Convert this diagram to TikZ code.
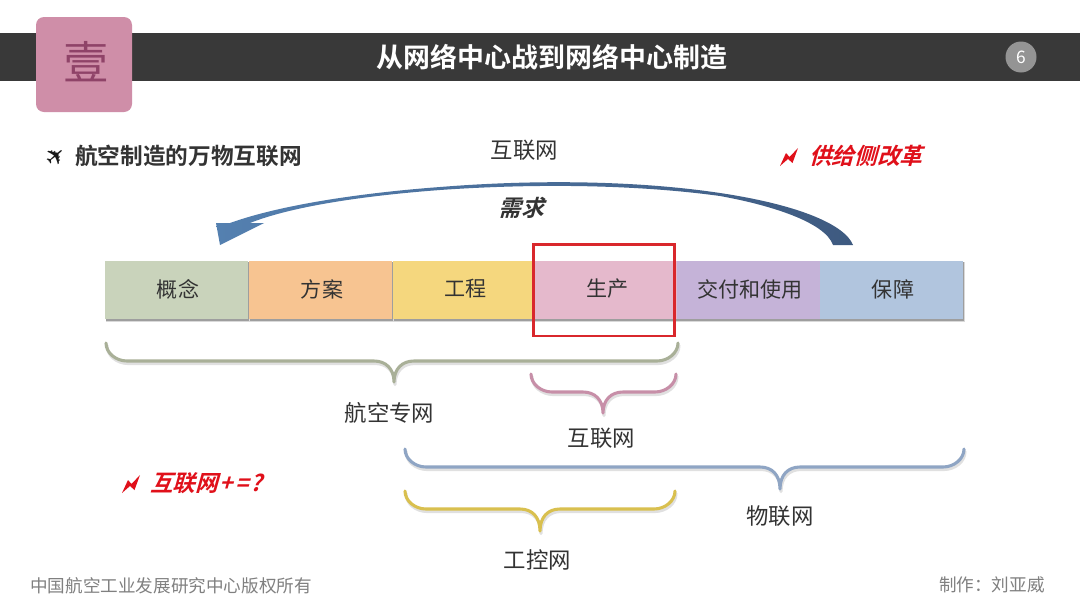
\documentclass[tikz,border=0pt]{standalone}
\usepackage{fontspec}
\setmainfont{Noto Sans CJK SC}
\newfontfamily\cjkb{Noto Sans CJK SC Bold}
\newfontfamily\cjkbi[FakeSlant=0.28]{Noto Sans CJK SC Bold}
\newfontfamily\djv{DejaVu Sans}
\definecolor{hdr}{HTML}{393939}
\definecolor{badge}{HTML}{CF8EA8}
\definecolor{badgetx}{HTML}{8F4368}
\definecolor{txt}{HTML}{333333}
\definecolor{foot}{HTML}{808080}
\definecolor{redtx}{HTML}{E0101A}
\definecolor{frame}{HTML}{D9272C}
\definecolor{stA}{HTML}{C9D3BB}
\definecolor{stB}{HTML}{F7C491}
\definecolor{stC}{HTML}{F5D77E}
\definecolor{stD}{HTML}{E5B9CC}
\definecolor{stE}{HTML}{C5B3D8}
\definecolor{stF}{HTML}{B1C5DE}
\definecolor{brA}{HTML}{A9B098}
\definecolor{brB}{HTML}{C78FA8}
\definecolor{brC}{HTML}{8FA5C4}
\definecolor{brD}{HTML}{D9C04F}
\definecolor{arL}{HTML}{5480B0}
\definecolor{arM}{HTML}{A0B4C8}
\definecolor{arR}{HTML}{3E5A80}
\tikzset{
  x=0.75pt,y=-0.75pt,
  label/.style={text=txt,font=\fontsize{16.8}{18}\selectfont,inner sep=0},
  stage/.style={font=\fontsize{15.8}{18}\selectfont,text=txt,inner sep=0},
  footer/.style={text=foot,font=\fontsize{13.2}{15}\selectfont,inner sep=0},
  hot/.style={text=redtx,font=\fontsize{17}{19}\selectfont\cjkbi,inner sep=0},
  curly/.style={line width=2.3pt,line cap=round,line join=round},
}
% left x, right x, middle x, top y, flat y, tip y, colour
\newcommand{\curlybrace}[7]{%
  \draw[curly,black!12,shift={(1,2.5)}] (#1,#4) .. controls (#1,#5-8) and (#1+10,#5) .. (#1+21,#5)
    -- (#3-20,#5) .. controls (#3-8,#5) and (#3,#5+8) .. (#3,#6)
    .. controls (#3,#5+8) and (#3+8,#5) .. (#3+20,#5)
    -- (#2-21,#5) .. controls (#2-10,#5) and (#2,#5-8) .. (#2,#4);
  \draw[curly,#7] (#1,#4) .. controls (#1,#5-8) and (#1+10,#5) .. (#1+21,#5)
    -- (#3-20,#5) .. controls (#3-8,#5) and (#3,#5+8) .. (#3,#6)
    .. controls (#3,#5+8) and (#3+8,#5) .. (#3+20,#5)
    -- (#2-21,#5) .. controls (#2-10,#5) and (#2,#5-8) .. (#2,#4);
}
\newcommand{\stagebar}[5]{%
  \fill[black!15] (#1+1,262) rectangle (#2+1.5,322);
  \fill[black!38] (#1+1,262) rectangle (#2+1,320.5);
  \fill[#3] (#1,261) rectangle (#2,319);
  \node[stage] (#4) at ({(#1+#2)/2+1.5},289) {#5};
}
\newcommand{\bolt}[2]{%
  \fill[redtx,shift={(#1,#2)}] (0,18) -- (6,5) -- (9.5,9) -- (18,0) -- (12.5,15) -- (8,11) -- cycle;
}
\begin{document}
\begin{tikzpicture}
\useasboundingbox (0,0) rectangle (1080,607);
\fill[white] (0,0) rectangle (1080,607);
% header
\fill[hdr] (0,33) rectangle (1080,81);
\fill[badge,rounded corners=6pt] (36,17) rectangle (132,112);
\node[text=badgetx,font=\fontsize{34}{36}\selectfont,inner sep=0] (badgetext) at (86,62) {壹};
\node[text=white,font=\fontsize{20.2}{22}\selectfont\cjkb,inner sep=0] (title) at (552,57) {从网络中心战到网络中心制造};
\fill[black!42] (1021,57) circle[radius=15.5];
\node[text=white,font=\fontsize{13}{15}\selectfont,inner sep=0] (pagenum) at (1021,57) {6};
% sub heading
\node[text=black!90,font=\fontsize{18}{19}\selectfont\djv,inner sep=0,rotate=40] (plane) at (56,157) {✈};
\node[anchor=west,text=txt,font=\fontsize{17}{19}\selectfont\cjkb,inner sep=0] (heading) at (75,156) {航空制造的万物互联网};
\node[label] (top) at (524.5,150) {互联网};
\bolt{780}{148}
\node[hot,anchor=west] (supply) at (809,156) {供给侧改革};
\node[text=txt,font=\fontsize{17}{19}\selectfont\cjkbi,inner sep=0] (demand) at (521,208) {需求};
% big arrow
\shade[left color=arL,middle color=arM,right color=arR]
  (853,245) .. controls (845,225) and (800,205) .. (720,193)
  .. controls (640,181) and (540,179) .. (440,187)
  .. controls (360,193) and (280,205) .. (230,223)
  -- (216,223) -- (220,245) -- (264,223) -- (250,223)
  .. controls (290,207) and (360,196) .. (440,190)
  .. controls (540,183) and (640,185) .. (720,196)
  .. controls (770,205) and (825,222) .. (833,245) -- cycle;
% stages
\stagebar{105}{248}{stA}{s1}{概念}
\stagebar{249}{392}{stB}{s2}{方案}
\stagebar{393}{535}{stC}{s3}{工程}
\stagebar{535}{677}{stD}{s4}{生产}
\stagebar{677}{820}{stE}{s5}{交付和使用}
\stagebar{820}{963}{stF}{s6}{保障}
\draw[frame,line width=1.6pt] (533.5,244.5) rectangle (674.5,336);
% braces
\curlybrace{106}{678}{394}{343}{361}{382}{brA}
\curlybrace{531}{676}{603}{374}{392}{413}{brB}
\curlybrace{405}{964}{780}{449}{467}{489}{brC}
\curlybrace{405}{675}{540}{491}{509}{531}{brD}
% labels
\node[label] (aero) at (389.5,413) {航空专网};
\node[label] (inet) at (601.5,438) {互联网};
\node[label] (iot) at (780,516) {物联网};
\node[label] (ics) at (537.5,560) {工控网};
\bolt{122}{475}
\node[hot,anchor=west] (plus) at (150,483) {互联网\kern1pt+\kern2pt=\kern1pt?};
\node[footer,anchor=west] (copy) at (30,586) {中国航空工业发展研究中心版权所有};
\node[footer,anchor=east] (author) at (1045,585) {制作：刘亚威};
\end{tikzpicture}
\end{document}
